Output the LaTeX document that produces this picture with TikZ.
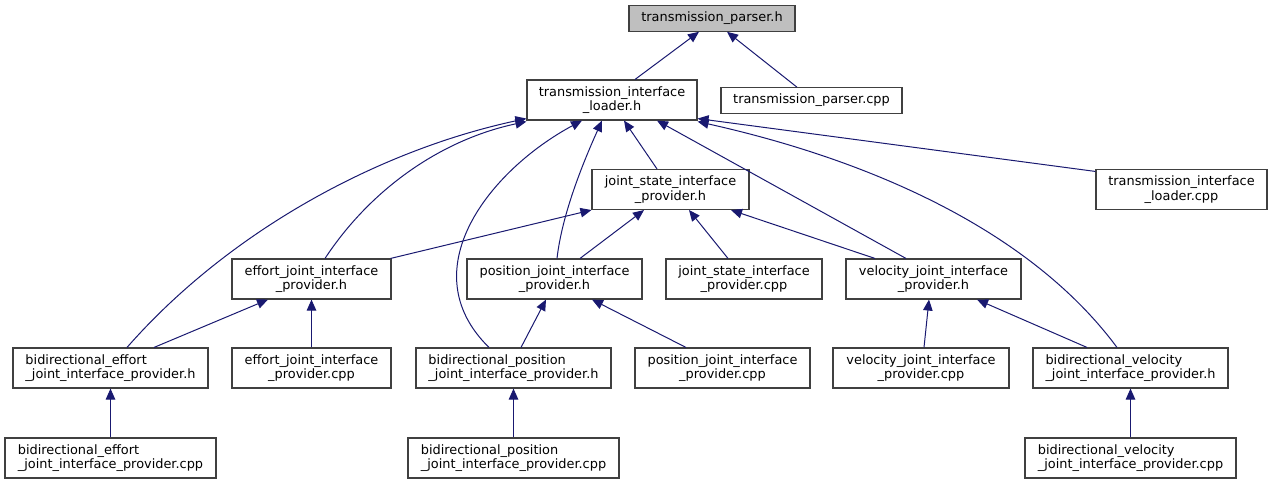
\documentclass[tikz,border=0pt]{standalone}
\usepackage{fontspec}
\setmainfont{DejaVu Sans}
\usetikzlibrary{arrows.meta}
\definecolor{edgecol}{HTML}{191970}
\definecolor{boxborder}{HTML}{404040}
\definecolor{rootfill}{HTML}{BFBFBF}
\tikzset{
  box/.style={draw=boxborder, line width=1.1pt, fill=white, inner sep=0pt, align=center,
    font=\fontsize{12.9}{14.7}\selectfont, minimum height=40pt},
  lbox/.style={box, align=left},
  onebox/.style={box, minimum height=25.5pt},
  edge/.style={draw=edgecol, line width=1pt, -{Triangle[length=11pt,width=9.5pt,fill=edgecol]}},
}
\begin{document}
\begin{tikzpicture}[x=1pt,y=-1pt]
\useasboundingbox (0,0) rectangle (1272,484);
% nodes
\node[onebox, fill=rootfill, minimum width=166pt] (parserh) at (712,18.5) {transmission\_parser.h};
\node[box, minimum width=170pt] (loaderh) at (612,100) {transmission\_interface\\\_loader.h};
\node[onebox, minimum width=181pt] (parsercpp) at (811.5,100.5) {transmission\_parser.cpp};
\node[box, minimum width=157pt] (jsh) at (670.5,189.5) {joint\_state\_interface\\\_provider.h};
\node[box, minimum width=171pt] (loadercpp) at (1181.5,189.5) {transmission\_interface\\\_loader.cpp};
\node[box, minimum width=159pt] (effh) at (311.5,279) {effort\_joint\_interface\\\_provider.h};
\node[box, minimum width=175pt] (posh) at (554.5,279) {position\_joint\_interface\\\_provider.h};
\node[box, minimum width=156pt] (jscpp) at (744,279) {joint\_state\_interface\\\_provider.cpp};
\node[box, minimum width=175pt] (velh) at (933.5,279) {velocity\_joint\_interface\\\_provider.h};
\node[lbox, minimum width=195pt] (beffh) at (110.5,368) {bidirectional\_effort\\\_joint\_interface\_provider.h};
\node[box, minimum width=159pt] (effcpp) at (311.5,368) {effort\_joint\_interface\\\_provider.cpp};
\node[lbox, minimum width=195pt] (bposh) at (513.5,368) {bidirectional\_position\\\_joint\_interface\_provider.h};
\node[box, minimum width=175pt] (poscpp) at (722.5,368) {position\_joint\_interface\\\_provider.cpp};
\node[box, minimum width=176pt] (velcpp) at (921,368) {velocity\_joint\_interface\\\_provider.cpp};
\node[lbox, minimum width=195pt] (bvelh) at (1130.5,368) {bidirectional\_velocity\\\_joint\_interface\_provider.h};
\node[lbox, minimum width=211pt] (beffcpp) at (110.5,458) {bidirectional\_effort\\\_joint\_interface\_provider.cpp};
\node[lbox, minimum width=211pt] (bposcpp) at (513.5,458) {bidirectional\_position\\\_joint\_interface\_provider.cpp};
\node[lbox, minimum width=211pt] (bvelcpp) at (1130.5,458) {bidirectional\_velocity\\\_joint\_interface\_provider.cpp};
% edges
\draw[edge] ([xshift=23pt]loaderh.north) -- ([xshift=-13pt]parserh.south);
\draw[edge] ([xshift=-14.5pt]parsercpp.north) -- ([xshift=15pt]parserh.south);
\draw[edge] ([xshift=-13.5pt]jsh.north) -- ([xshift=12pt]loaderh.south);
\draw[edge] ([xshift=16.5pt]beffh.north) .. controls (230,230) and (380,150) .. ([yshift=2pt]loaderh.south west);
\draw[edge] ([xshift=13.5pt]effh.north) .. controls (370,190) and (440,140) .. ([yshift=-1pt]loaderh.south west);
\draw[edge] ([xshift=-24.5pt]bposh.north) .. controls (410,270) and (490,170) .. ([xshift=-30pt]loaderh.south);
\draw[edge] ([xshift=2.5pt]posh.north) .. controls (562,215) and (582,165) .. ([xshift=-10pt]loaderh.south);
\draw[edge] ([xshift=-27.5pt]velh.north) -- ([xshift=45pt]loaderh.south);
\draw[edge] ([xshift=-13.5pt]bvelh.north) .. controls (1030,230) and (870,160) .. ([yshift=-1pt]loaderh.south east);
\draw[edge] ([yshift=-2.5pt]loadercpp.north west) -- ([yshift=2pt]loaderh.south east);
\draw[edge] ([xshift=-1pt]effh.north east) -- (jsh.south west);
\draw[edge] ([xshift=25.5pt]posh.north) -- ([xshift=-26.5pt]jsh.south);
\draw[edge] ([xshift=-16pt]jscpp.north) -- ([xshift=18.5pt]jsh.south);
\draw[edge] ([xshift=-58.5pt]velh.north) -- ([xshift=60.5pt]jsh.south);
\draw[edge] ([xshift=43.5pt]beffh.north) -- ([xshift=-43.5pt]effh.south);
\draw[edge] (effcpp.north) -- (effh.south);
\draw[edge] ([xshift=7.5pt]bposh.north) -- ([xshift=-8.5pt]posh.south);
\draw[edge] ([xshift=-36.5pt]poscpp.north) -- ([xshift=37.5pt]posh.south);
\draw[edge] ([xshift=3pt]velcpp.north) -- ([xshift=-4.5pt]velh.south);
\draw[edge] ([xshift=-43.5pt]bvelh.north) -- ([xshift=43.5pt]velh.south);
\draw[edge] (beffcpp.north) -- (beffh.south);
\draw[edge] (bposcpp.north) -- (bposh.south);
\draw[edge] (bvelcpp.north) -- (bvelh.south);
\end{tikzpicture}
\end{document}
